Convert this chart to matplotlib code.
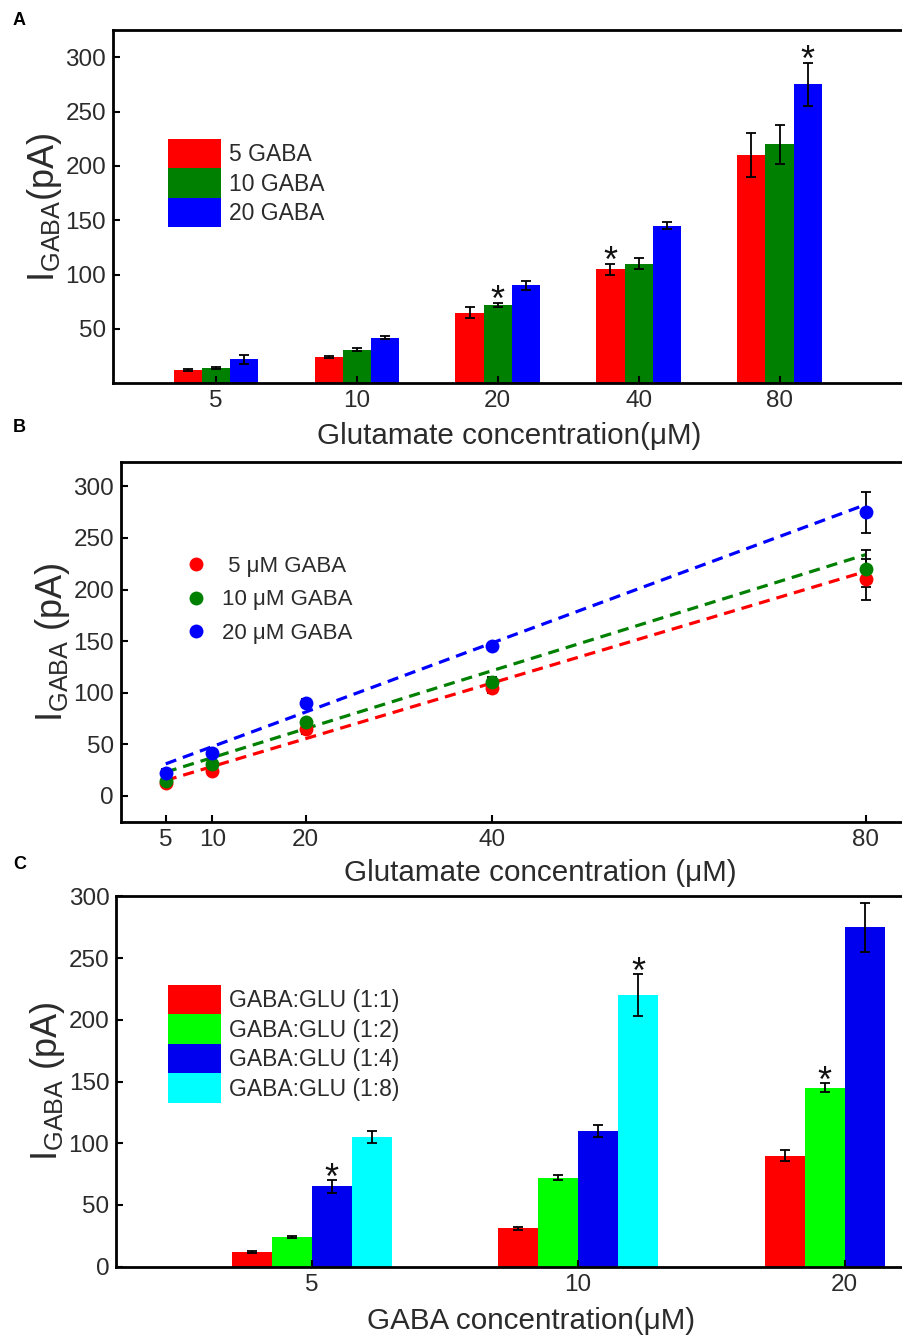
import numpy as np
import matplotlib.pyplot as plt

plt.rcParams['font.family'] = ['Liberation Sans', 'DejaVu Sans']
plt.rcParams['mathtext.fontset'] = 'custom'
plt.rcParams['mathtext.rm'] = 'Liberation Sans'
plt.rcParams['mathtext.it'] = 'Liberation Sans:italic'
plt.rcParams['mathtext.bf'] = 'Liberation Sans:bold'

TXT = '#2b2b2b'

# ---- data ----
glu_conc = [5, 10, 20, 40, 80]
glu_labels = ['5', '10', '20', '40', '80']

i_gaba5 = [12, 24, 65, 105, 210]
err_gaba5 = [1, 1, 5, 5, 20]
i_gaba10 = [14, 31, 72, 110, 220]
err_gaba10 = [1, 1.5, 2, 5, 18]
i_gaba20 = [22, 42, 90, 145, 275]
err_gaba20 = [4, 1.5, 4, 3.5, 20]

# asterisks in A: (group index, series index)
stars_a = [(2, 1), (3, 0), (4, 2)]

# B: dashed linear fits (slope, intercept)
fit_slope = [2.70, 2.81, 3.35]
fit_intercept = [1.5, 9.0, 14.3]
fit_range = [5, 80]

# C: GABA concentration groups, GABA:GLU ratios
gaba_labels = ['5', '10', '20']
ratio_11 = [12, 31, 90]
err_11 = [1, 1, 4.5]
ratio_12 = [24, 72, 145]
err_12 = [1, 2, 3.5]
ratio_14 = [65, 110, 275]
err_14 = [5, 5, 20]
ratio_18 = [105, 220, np.nan]
err_18 = [5, 17, np.nan]
stars_c = [(0, 2), (1, 3), (2, 1)]


def style_axes(ax):
    for sp in ax.spines.values():
        sp.set_linewidth(2)
    ax.spines['right'].set_visible(False)
    ax.tick_params(direction='in', length=5, width=1.5, labelsize=17.5,
                   pad=5, labelcolor=TXT, top=False, right=False)


def add_stars(ax, xs_list, vals_list, errs_list, stars):
    for g, s in stars:
        x = xs_list[s][g]
        top = vals_list[s][g] + errs_list[s][g]
        ax.annotate('*', xy=(x, top), xytext=(0, -6), textcoords='offset points',
                    ha='center', va='baseline', fontsize=26, color='#111111')


err_kw = dict(ecolor='black', elinewidth=1.3, capsize=3.5, capthick=1.3)

fig = plt.figure(figsize=(9.02, 13.38), dpi=100)

# ---------------- Panel A ----------------
axA = fig.add_axes([0.1253, 0.7135, 0.878, 0.2641])
width_a = 0.2
vals_a = [i_gaba5, i_gaba10, i_gaba20]
errs_a = [err_gaba5, err_gaba10, err_gaba20]
cols_a = ['#ff0000', '#008000', '#0000ff']
labs_a = ['5 GABA', '10 GABA', '20 GABA']
xs_a = []
for k in range(3):
    x = np.arange(1, len(glu_conc) + 1) + (k - 1) * width_a
    xs_a.append(x)
    axA.bar(x, vals_a[k], width_a, color=cols_a[k], yerr=errs_a[k],
            error_kw=err_kw, label=labs_a[k])
add_stars(axA, xs_a, vals_a, errs_a, stars_a)
axA.set_xlim(0.27, 5.89)
axA.set_ylim(0, 325)
axA.set_xticks(np.arange(1, len(glu_conc) + 1))
axA.set_xticklabels(glu_labels)
axA.set_yticks([50, 100, 150, 200, 250, 300])
style_axes(axA)
axA.set_xlabel('Glutamate concentration(\u03bcM)', fontsize=21.3, color=TXT, labelpad=7)
axA.set_ylabel(r'I$_{\rm GABA}$(pA)', fontsize=26, color=TXT, labelpad=1)
axA.legend(loc='upper left', bbox_to_anchor=(0.0694, 0.6916), frameon=False,
           borderpad=0, borderaxespad=0, handlelength=2.3, handleheight=1.6,
           handletextpad=0.35, labelspacing=0, fontsize=16.5, labelcolor=TXT)

# ---------------- Panel B ----------------
axB = fig.add_axes([0.1341, 0.3859, 0.929, 0.2691])
cols_b = ['#ff0000', '#008000', '#0000ff']
labs_b = [' 5 \u03bcM GABA', '10 \u03bcM GABA', '20 \u03bcM GABA']
handles_b = []
for k in range(3):
    fx = np.array(fit_range, dtype=float)
    axB.plot(fx, fit_intercept[k] + fit_slope[k] * fx, color=cols_b[k],
             lw=2.3, linestyle=(0, (3.5, 2.2)), zorder=2)
for k in range(3):
    axB.errorbar(glu_conc, vals_a[k], yerr=errs_a[k], fmt='none', zorder=3, **err_kw)
    h, = axB.plot(glu_conc, vals_a[k], 'o', color=cols_b[k], markersize=10,
                  markeredgewidth=0, zorder=4, label=labs_b[k])
    handles_b.append(h)
axB.set_xlim(0.2, 90)
axB.set_ylim(-25, 324)
axB.set_xticks(glu_conc)
axB.set_xticklabels(glu_labels)
axB.set_yticks([0, 50, 100, 150, 200, 250, 300])
style_axes(axB)
axB.set_xlabel('Glutamate concentration (\u03bcM)', fontsize=21.3, color=TXT, labelpad=6)
axB.set_ylabel(r'I$_{\rm GABA}$ (pA)', fontsize=26, color=TXT, labelpad=1)
axB.legend(handles=handles_b, loc='upper left', bbox_to_anchor=(0.0759, 0.738),
           frameon=False, borderpad=0, borderaxespad=0, handlelength=1.0,
           handletextpad=0.68, labelspacing=0.56, numpoints=1, fontsize=16,
           labelcolor=TXT)

# ---------------- Panel C ----------------
axC = fig.add_axes([0.1289, 0.0533, 0.9198, 0.2767])
width_c = 0.15
vals_c = [ratio_11, ratio_12, ratio_14, ratio_18]
errs_c = [err_11, err_12, err_14, err_18]
cols_c = ['#ff0000', '#00ff00', '#0000ee', '#00ffff']
labs_c = ['GABA:GLU (1:1)', 'GABA:GLU (1:2)', 'GABA:GLU (1:4)', 'GABA:GLU (1:8)']
xs_c = []
for k in range(4):
    x = np.arange(1, len(gaba_labels) + 1) + (k - 1.5) * width_c
    xs_c.append(x)
    axC.bar(x, vals_c[k], width_c, color=cols_c[k], yerr=errs_c[k],
            error_kw=err_kw, label=labs_c[k])
add_stars(axC, xs_c, vals_c, errs_c, stars_c)
axC.set_xlim(0.267, 3.38)
axC.set_ylim(0, 300)
axC.set_xticks(np.arange(1, len(gaba_labels) + 1))
axC.set_xticklabels(gaba_labels)
axC.set_yticks([0, 50, 100, 150, 200, 250, 300])
style_axes(axC)
axC.set_xlabel('GABA concentration(\u03bcM)', fontsize=21.3, color=TXT, labelpad=8)
axC.set_ylabel(r'I$_{\rm GABA}$ (pA)', fontsize=26, color=TXT, labelpad=1)
axC.legend(loc='upper left', bbox_to_anchor=(0.0623, 0.761), frameon=False,
           borderpad=0, borderaxespad=0, handlelength=2.3, handleheight=1.6,
           handletextpad=0.35, labelspacing=0, fontsize=16.5, labelcolor=TXT)

# panel letters
for letter, ypix in [('A', 25), ('B', 432), ('C', 869)]:
    fig.text(13 / 902, 1 - ypix / 1338, letter, fontsize=13, fontweight='bold',
             va='baseline', ha='left', color='black')

fig.savefig('out.png', dpi=100)
